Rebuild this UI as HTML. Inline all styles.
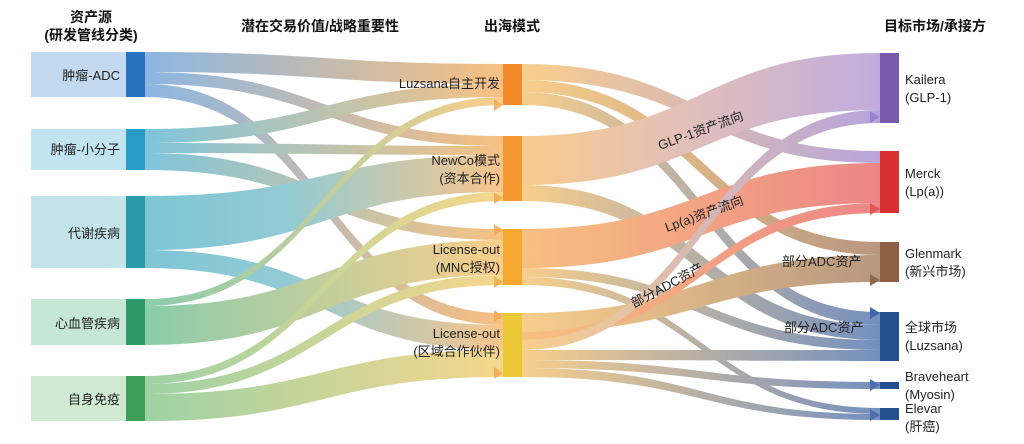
<!DOCTYPE html>
<html><head><meta charset="utf-8"><style>
html,body{margin:0;padding:0;background:#fff;}
svg{display:block;font-family:"Liberation Sans","Noto Sans CJK SC",sans-serif;}
</style></head><body>
<svg width="1024" height="444" viewBox="0 0 1024 444" xmlns="http://www.w3.org/2000/svg">
<defs>
<linearGradient id="gA" gradientUnits="userSpaceOnUse" x1="145" x2="503"><stop offset="0" stop-color="#5f9bd8"/><stop offset="1" stop-color="#f5a850"/></linearGradient>
<linearGradient id="gS" gradientUnits="userSpaceOnUse" x1="145" x2="503"><stop offset="0" stop-color="#4fb0d0"/><stop offset="1" stop-color="#f5aa55"/></linearGradient>
<linearGradient id="gM" gradientUnits="userSpaceOnUse" x1="145" x2="503"><stop offset="0" stop-color="#4eb0c6"/><stop offset="0.4" stop-color="#6ab8c4"/><stop offset="1" stop-color="#f6b060"/></linearGradient>
<linearGradient id="gC" gradientUnits="userSpaceOnUse" x1="145" x2="503"><stop offset="0" stop-color="#5fbb8c"/><stop offset="1" stop-color="#f6bc60"/></linearGradient>
<linearGradient id="gI" gradientUnits="userSpaceOnUse" x1="145" x2="503"><stop offset="0" stop-color="#78c283"/><stop offset="1" stop-color="#f3c860"/></linearGradient>
<linearGradient id="tK" gradientUnits="userSpaceOnUse" x1="522" x2="880"><stop offset="0" stop-color="#f7b860"/><stop offset="0.45" stop-color="#d8a8a0"/><stop offset="1" stop-color="#a88cd2"/></linearGradient>
<linearGradient id="tR" gradientUnits="userSpaceOnUse" x1="522" x2="880"><stop offset="0" stop-color="#f7a850"/><stop offset="1" stop-color="#e65858"/></linearGradient>
<linearGradient id="tG" gradientUnits="userSpaceOnUse" x1="522" x2="880"><stop offset="0" stop-color="#f6bc60"/><stop offset="1" stop-color="#9c7050"/></linearGradient>
<linearGradient id="tB" gradientUnits="userSpaceOnUse" x1="522" x2="880"><stop offset="0" stop-color="#f6bc60"/><stop offset="1" stop-color="#3f66a8"/></linearGradient>
<linearGradient id="tP" gradientUnits="userSpaceOnUse" x1="522" x2="880"><stop offset="0" stop-color="#f6bc60"/><stop offset="1" stop-color="#9b82d0"/></linearGradient>
</defs>
<g opacity="0.72">
<!-- left flows -->
<path fill="url(#gA)" d="M145 52C324 52 324 64 503 64L503 84C324 84 324 72 145 72Z"/>
<path fill="url(#gA)" d="M145 72C324 72 324 136 503 136L503 146C324 146 324 84 145 84Z"/>
<path fill="url(#gA)" d="M145 84C324 84 324 313 503 313L503 325C324 325 324 97 145 97Z"/>
<path fill="url(#gS)" d="M145 129C324 129 324 84 503 84L503 97C324 97 324 143 145 143Z"/>
<path fill="url(#gS)" d="M145 143C324 143 324 146 503 146L503 155C324 155 324 153 145 153Z"/>
<path fill="url(#gS)" d="M145 153C324 153 324 229 503 229L503 240C324 240 324 170 145 170Z"/>
<path fill="url(#gM)" d="M145 196C324 196 324 155 503 155L503 192C324 192 324 250 145 250Z"/>
<path fill="url(#gM)" d="M145 250C324 250 324 325 503 325L503 350C324 350 324 268 145 268Z"/>
<path fill="url(#gC)" d="M145 299C324 299 324 97 503 97L503 105C324 105 324 306 145 306Z"/>
<path fill="url(#gC)" d="M145 306C324 306 324 240 503 240L503 275C324 275 324 345 145 345Z"/>
<path fill="url(#gI)" d="M145 376C324 376 324 192 503 192L503 201C324 201 324 384 145 384Z"/>
<path fill="url(#gI)" d="M145 384C324 384 324 275 503 275L503 285C324 285 324 394 145 394Z"/>
<path fill="url(#gI)" d="M145 394C324 394 324 350 503 350L503 377C324 377 324 421 145 421Z"/>
<!-- middle flows -->
<path fill="url(#tP)" d="M522 64C701 64 701 151 880 151L880 163C701 163 701 80 522 80Z"/>
<path fill="url(#tG)" d="M522 80C701 80 701 242 880 242L880 255C701 255 701 92 522 92Z"/>
<path fill="url(#tB)" d="M522 92C701 92 701 312 880 312L880 325C701 325 701 105 522 105Z"/>
<path fill="url(#tK)" d="M522 136C701 136 701 53 880 53L880 110C701 110 701 185 522 185Z"/>
<path fill="url(#tB)" d="M522 185C701 185 701 325 880 325L880 340C701 340 701 201 522 201Z"/>
<path fill="url(#tR)" d="M522 229C701 229 701 163 880 163L880 203C701 203 701 268 522 268Z"/>
<path fill="url(#tB)" d="M522 268C701 268 701 340 880 340L880 350C701 350 701 277 522 277Z"/>
<path fill="url(#tB)" d="M522 277C701 277 701 408 880 408L880 414C701 414 701 285 522 285Z"/>
<path fill="url(#tG)" d="M522 313C701 313 701 255 880 255L880 282C701 282 701 332 522 332Z"/>
<path fill="url(#tR)" d="M522 332C701 332 701 203 880 203L880 213C701 213 701 340 522 340Z"/>
<path fill="url(#tP)" d="M522 340C701 340 701 110 880 110L880 123C701 123 701 350 522 350Z"/>
<path fill="url(#tB)" d="M522 350C701 350 701 350 880 350L880 361C701 361 701 360 522 360Z"/>
<path fill="url(#tB)" d="M522 360C701 360 701 382 880 382L880 389C701 389 701 368 522 368Z"/>
<path fill="url(#tB)" d="M522 368C701 368 701 414 880 414L880 420C701 420 701 377 522 377Z"/>
</g>
<!-- arrowheads -->
<g fill="#f5a850" opacity="0.85">
<path d="M494 99L503 105L494 111Z"/><path d="M494 192L503 198L494 204Z"/>
<path d="M494 224L503 230L494 236Z"/><path d="M494 276L503 282L494 288Z"/>
<path d="M494 310L503 316L494 322Z"/><path d="M494 367L503 373L494 379Z"/>
</g>
<path d="M870 111L880 117L870 123Z" fill="#9b82d0"/>
<path d="M870 203L880 209L870 215Z" fill="#e05858"/>
<path d="M870 274L880 280L870 286Z" fill="#8e6a50"/>
<path d="M870 307L880 313L870 319Z" fill="#3f66a8"/>
<path d="M870 379L880 385L870 391Z" fill="#4d6fac"/>
<path d="M870 409L880 415L870 421Z" fill="#4d6fac"/>
<!-- left nodes -->
<rect x="31" y="52" width="95" height="45" fill="#c3d9ef"/><rect x="126" y="52" width="19" height="45" fill="#2a72c0"/>
<rect x="31" y="129" width="95" height="41" fill="#c2e4f0"/><rect x="126" y="129" width="19" height="41" fill="#2a9ac6"/>
<rect x="31" y="196" width="95" height="72" fill="#c3e5ea"/><rect x="126" y="196" width="19" height="72" fill="#2a9aaa"/>
<rect x="31" y="299" width="95" height="46" fill="#c6e7d6"/><rect x="126" y="299" width="19" height="46" fill="#2f9a68"/>
<rect x="31" y="376" width="95" height="45" fill="#cfe9d2"/><rect x="126" y="376" width="19" height="45" fill="#3d9e55"/>
<!-- middle nodes -->
<rect x="503" y="64" width="19" height="41" fill="#f28a2a"/>
<rect x="503" y="136" width="19" height="65" fill="#f49a30"/>
<rect x="503" y="229" width="19" height="56" fill="#f4a830"/>
<rect x="503" y="313" width="19" height="64" fill="#ecc838"/>
<!-- right nodes -->
<rect x="880" y="53" width="19" height="70" fill="#7a58aa"/>
<rect x="880" y="151" width="19" height="62" fill="#d83030"/>
<rect x="880" y="242" width="19" height="40" fill="#8c6040"/>
<rect x="880" y="312" width="19" height="49" fill="#264f90"/>
<rect x="880" y="382" width="19" height="7" fill="#264f90"/>
<rect x="880" y="408" width="19" height="12" fill="#264f90"/>
<!-- headers -->
<g font-weight="bold" font-size="14" fill="#111" text-anchor="middle">
<text x="91" y="22">资产源</text><text x="91" y="40">(研发管线分类)</text>
<text x="320" y="31">潜在交易价值/战略重要性</text>
<text x="512" y="31">出海模式</text>
<text x="935" y="31">目标市场/承接方</text>
</g>
<g font-size="13" fill="#222" text-anchor="end">
<text x="120" y="80">肿瘤-ADC</text>
<text x="120" y="154">肿瘤-小分子</text>
<text x="120" y="238">代谢疾病</text>
<text x="120" y="328">心血管疾病</text>
<text x="120" y="404">自身免疫</text>
<text x="500" y="88">Luzsana自主开发</text>
<text x="500" y="165">NewCo模式</text><text x="500" y="183">(资本合作)</text>
<text x="500" y="254">License-out</text><text x="500" y="272">(MNC授权)</text>
<text x="500" y="338">License-out</text><text x="500" y="356">(区域合作伙伴)</text>
</g>
<g font-size="13" fill="#222">
<text x="905" y="84">Kailera</text><text x="905" y="102">(GLP-1)</text>
<text x="905" y="178">Merck</text><text x="905" y="196">(Lp(a))</text>
<text x="905" y="258">Glenmark</text><text x="905" y="276">(新兴市场)</text>
<text x="905" y="332">全球市场</text><text x="905" y="350">(Luzsana)</text>
<text x="905" y="381">Braveheart</text><text x="905" y="399">(Myosin)</text>
<text x="905" y="413">Elevar</text><text x="905" y="431">(肝癌)</text>
<text x="782" y="266">部分ADC资产</text>
<text x="784" y="332">部分ADC资产</text>
<text transform="translate(660,150) rotate(-20)">GLP-1资产流向</text>
<text transform="translate(667,232) rotate(-20)">Lp(a)资产流向</text>
<text transform="translate(634,308) rotate(-28)">部分ADC资产</text>
</g>
</svg>
</body></html>
